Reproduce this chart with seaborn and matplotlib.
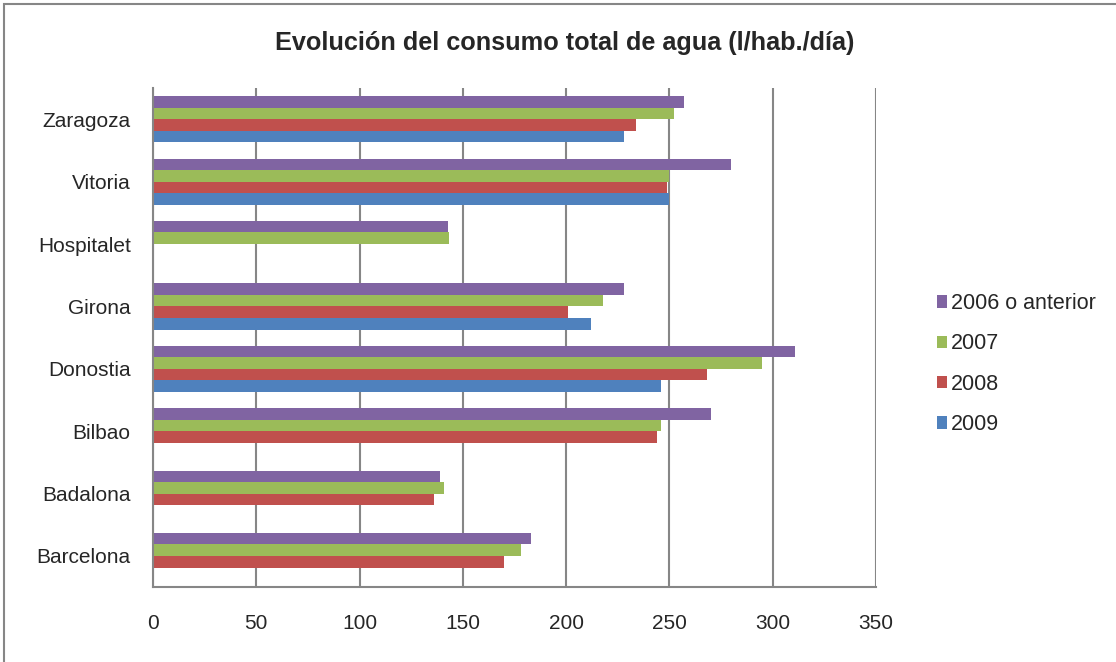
import numpy as np
import pandas as pd
import matplotlib
matplotlib.use("Agg")
import matplotlib.pyplot as plt
import seaborn as sns
from matplotlib.patches import Rectangle

# Data (l/hab./dia), NaN = no data
cities = ['Zaragoza', 'Vitoria', 'Hospitalet', 'Girona',
          'Donostia', 'Bilbao', 'Badalona', 'Barcelona']
years = ['2006 o anterior', '2007', '2008', '2009']
v2006 = [257, 280, 143, 228, 311, 270, 139, 183]
v2007 = [252, 250, 143.5, 218, 295, 246, 141, 178]
v2008 = [234, 249, np.nan, 201, 268, 244, 136, 170]
v2009 = [228, 250, np.nan, 212, 246, np.nan, np.nan, np.nan]
colors = ['#8064A2', '#9BBB59', '#C0504D', '#4F81BD']

df = pd.DataFrame({'city': cities, years[0]: v2006, years[1]: v2007,
                   years[2]: v2008, years[3]: v2009})
long_df = df.melt(id_vars='city', var_name='year', value_name='consumo').dropna()

sns.set_style('white')
plt.rcParams['font.family'] = ['Liberation Sans', 'DejaVu Sans']

fig = plt.figure(figsize=(11.16, 6.62), dpi=100)
ax = fig.add_axes([0.137, 0.113, 0.648, 0.754])

sns.barplot(data=long_df, y='city', x='consumo', hue='year',
            order=cities, hue_order=years, palette=colors,
            width=0.74, saturation=1, errorbar=None, linewidth=0, ax=ax)

grid_col = '#868686'
ax.set_xlim(0, 350)
ax.set_xticks(np.arange(0, 351, 50))
ax.xaxis.grid(True, color=grid_col, linewidth=1.5)
ax.set_axisbelow(True)
ax.set_xlabel('')
ax.set_ylabel('')
for side in ['top', 'right']:
    ax.spines[side].set_visible(False)
for side in ['left', 'bottom']:
    ax.spines[side].set_color(grid_col)
    ax.spines[side].set_linewidth(1.5)
ax.tick_params(axis='x', length=0, pad=19, labelsize=15)
ax.tick_params(axis='y', length=0, pad=16, labelsize=15)

ax.legend(loc='center left', bbox_to_anchor=(1.057, 0.447), frameon=False,
          fontsize=15.5, handlelength=0.5, handleheight=0.5,
          handletextpad=0.15, labelspacing=0.9, borderaxespad=0.5)

fig.text(0.506, 0.935, 'Evolución del consumo total de agua (l/hab./día)',
         ha='center', va='center', fontsize=18.2, fontweight='bold')

# outer chart border (only left/top edges visible in the reference crop)
fig.patches.append(Rectangle((4 / 1116, -0.05), 1.1, 1.05 - 4 / 662,
                             transform=fig.transFigure, fill=False,
                             edgecolor=grid_col, linewidth=1.5))

fig.savefig('out.png', dpi=100)
